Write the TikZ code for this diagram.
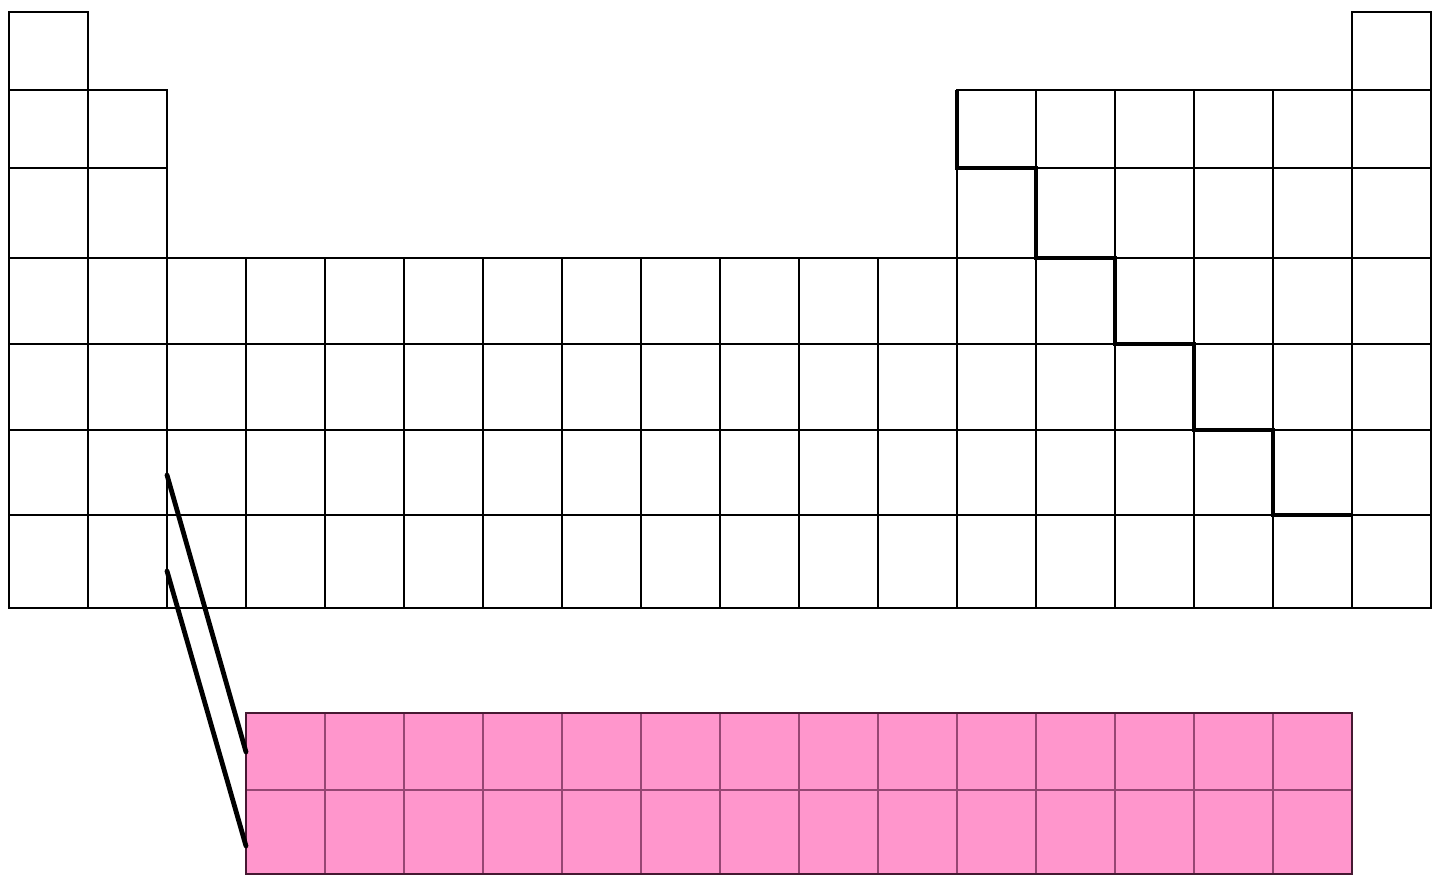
\documentclass[tikz,border=0pt]{standalone}
\usetikzlibrary{calc}
\definecolor{fblock}{RGB}{255,150,204}
\definecolor{fgrid}{RGB}{150,70,115}
\definecolor{fedge}{RGB}{70,25,50}
\begin{document}
\begin{tikzpicture}[
		x = 0.5pt,
		y = -0.5pt,
		cell/.style={
			draw,
			line width = 1.1pt},
		fcell/.style={
			draw = fgrid,
			fill = fblock,
			line width = 0.8pt},
		stair/.style={
			draw,
			line width = 2.3pt},
		link/.style={
			draw,
			line width = 2.4pt,
			line cap = round}
		]
		\useasboundingbox (0,0) rectangle (1440,884);
		
		\foreach \t/\b/\cols in {12/90/{1,18}, 90/168/{1,2,13,14,15,16,17,18}, 168/258/{1,2,13,14,15,16,17,18}, 258/344/{1,...,18}, 344/430/{1,...,18}, 430/515/{1,...,18}, 515/608/{1,...,18}}
			\foreach \c in \cols
				\draw[cell] ({9+79*(\c-1)},\t) rectangle ({9+79*\c},\b);
		
		\foreach \c in {0,...,13}
			\foreach \t/\b in {713/790, 790/874}
				\draw[fcell] ({246+79*\c},\t) rectangle ({246+79*(\c+1)},\b);
		\draw[draw = fedge, line width = 1.2pt] (246,713) rectangle (1352,874);
		
		\draw[stair] (957,90) |- (1036,168) |- (1115,258) |- (1194,344) |- (1273,430) |- (1352,515);
		
		\coordinate (d top) at (167,475);
		\coordinate (d bot) at (167,571);
		\coordinate (f top) at (246,752);
		\coordinate (f bot) at (246,846);
		\draw[link] (d top) -- (f top);
		\draw[link] (d bot) -- (f bot);
	\end{tikzpicture}
\end{document}
